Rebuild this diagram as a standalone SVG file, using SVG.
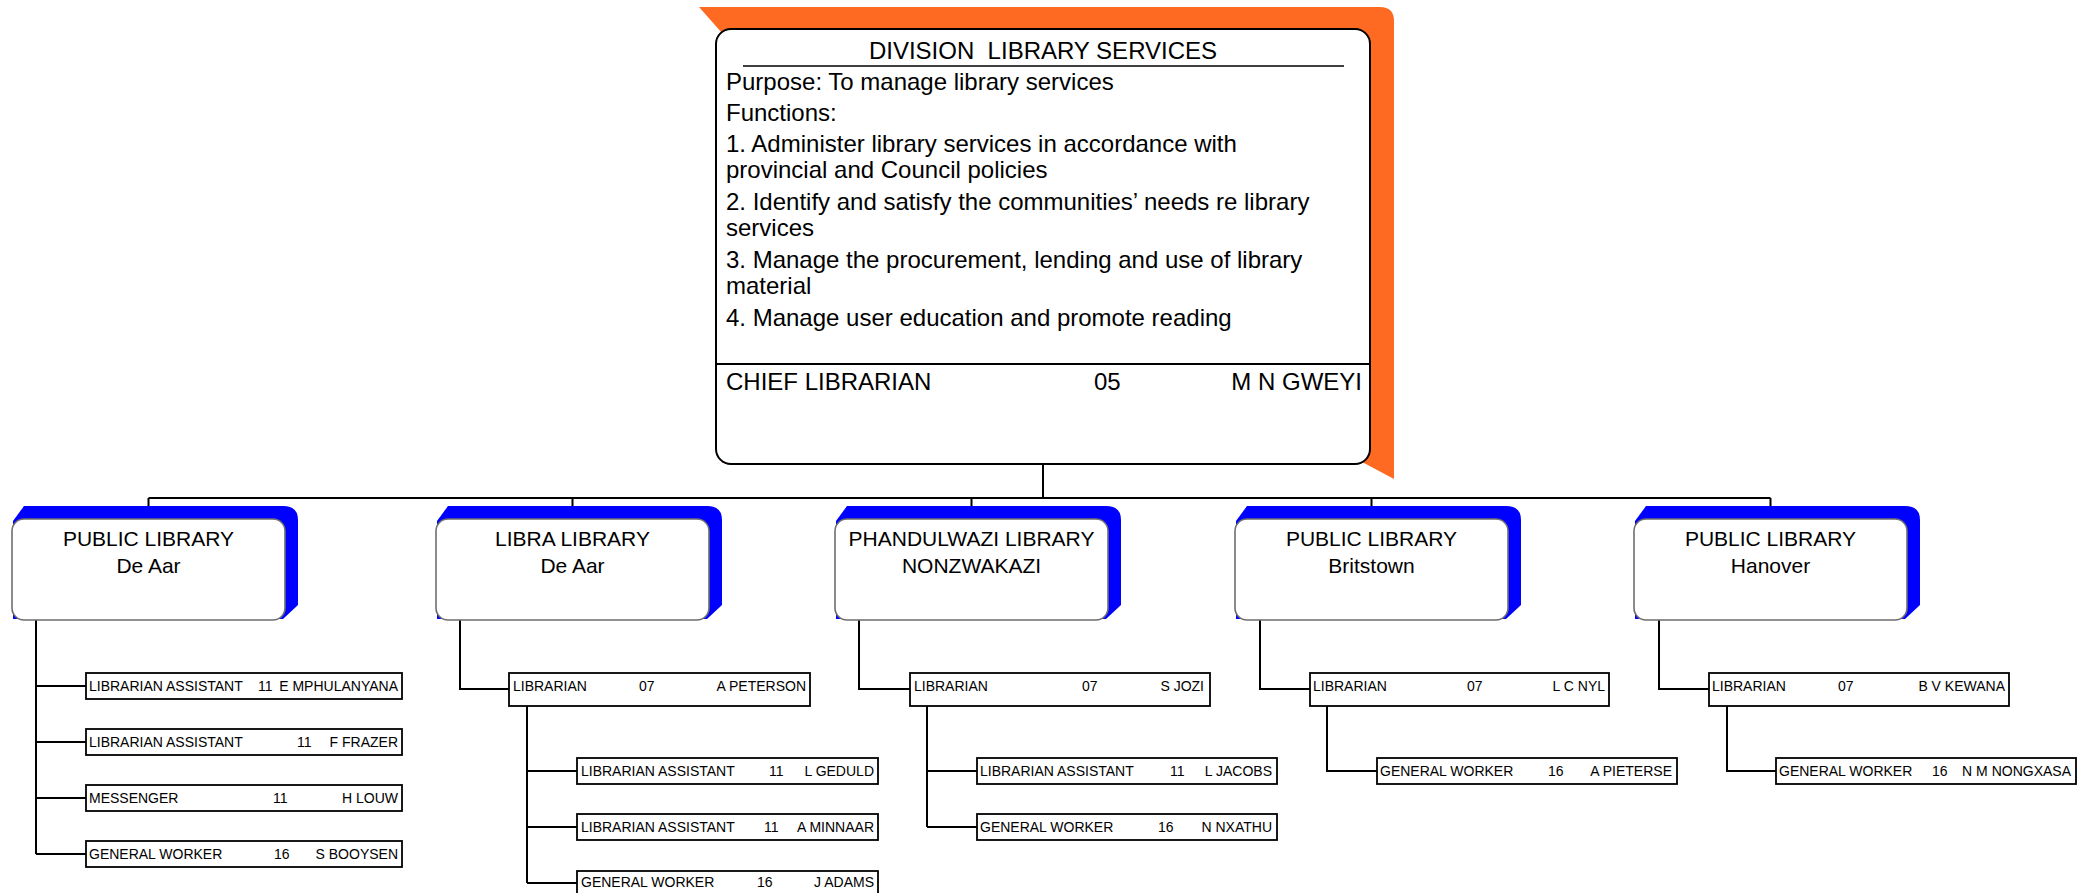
<svg xmlns="http://www.w3.org/2000/svg" width="2096" height="893" viewBox="0 0 2096 893">
<style>
text{font-family:"Liberation Sans",Arial,sans-serif;fill:#000}
.t24{font-size:24px}
.t21{font-size:21px;text-anchor:middle}
.t14{font-size:14px}
.r{text-anchor:end}
.lib{fill:#fff;stroke:#6e6e6e;stroke-width:1.6}
.sh{fill:#0000ff}
.pos{fill:#fff;stroke:#000;stroke-width:1.8}
.ln{fill:none;stroke:#000;stroke-width:2}
</style>
<rect width="2096" height="893" fill="#fff"/>

<g id="connectors">
<path class="ln" d="M1043,464 V498 M148.5,498 H1770.5 M148.5,498 V519 M572.5,498 V519 M971.5,498 V519 M1371.5,498 V519 M1770.5,498 V519"/>
<path class="ln" d="M36,620 V854 M36,686 H86 M36,742 H86 M36,798 H86 M36,854 H86"/>
<path class="ln" d="M460,620 V689 H509 M527,706 V883 M527,771 H577 M527,827 H577 M527,883 H577"/>
<path class="ln" d="M859,620 V689 H910 M927,706 V827 M927,771 H977 M927,827 H977"/>
<path class="ln" d="M1260,620 V689 H1310 M1327,706 V771 H1377"/>
<path class="ln" d="M1659,620 V689 H1709 M1727,706 V771 H1776"/>
</g>

<g id="division">
<path fill="#ff6a22" d="M699,7 L1380,7 Q1394,7 1394,21 L1394,479 L1364,463 L722,463 L722,33 Z"/>
<rect x="716" y="29" width="654" height="435" rx="15" fill="#fff" stroke="#000" stroke-width="2"/>
<text class="t24" x="1043" y="59" text-anchor="middle" xml:space="preserve" style="white-space:pre">DIVISION  LIBRARY SERVICES</text>
<line x1="743" y1="66" x2="1344" y2="66" stroke="#000" stroke-width="1.5"/>
<text class="t24" x="726" y="90">Purpose: To manage library services</text>
<text class="t24" x="726" y="121">Functions:</text>
<text class="t24" x="726" y="152">1. Administer library services in accordance with</text>
<text class="t24" x="726" y="178">provincial and Council policies</text>
<text class="t24" x="726" y="210">2. Identify and satisfy the communities’ needs re library</text>
<text class="t24" x="726" y="236">services</text>
<text class="t24" x="726" y="268">3. Manage the procurement, lending and use of library</text>
<text class="t24" x="726" y="294">material</text>
<text class="t24" x="726" y="326">4. Manage user education and promote reading</text>
<line x1="716" y1="364" x2="1370" y2="364" stroke="#000" stroke-width="2"/>
<text class="t24" x="726" y="390">CHIEF LIBRARIAN</text>
<text class="t24" x="1094" y="390">05</text>
<text class="t24 r" x="1362" y="390">M N GWEYI</text>
</g>

<g id="lib1">
<path class="sh" d="M13,521 L24,506 L283,506 Q298,506 298,520 L298,605 L283,619 L13,619 Z"/>
<rect class="lib" x="12" y="519" width="273" height="101" rx="12"/>
<text class="t21" x="148.5" y="546">PUBLIC LIBRARY</text>
<text class="t21" x="148.5" y="573">De Aar</text>
</g>
<g id="lib2">
<path class="sh" d="M437,521 L448,506 L707,506 Q722,506 722,520 L722,605 L707,619 L437,619 Z"/>
<rect class="lib" x="436" y="519" width="273" height="101" rx="12"/>
<text class="t21" x="572.5" y="546">LIBRA LIBRARY</text>
<text class="t21" x="572.5" y="573">De Aar</text>
</g>
<g id="lib3">
<path class="sh" d="M836,521 L847,506 L1106,506 Q1121,506 1121,520 L1121,605 L1106,619 L836,619 Z"/>
<rect class="lib" x="835" y="519" width="273" height="101" rx="12"/>
<text class="t21" x="971.5" y="546">PHANDULWAZI LIBRARY</text>
<text class="t21" x="971.5" y="573">NONZWAKAZI</text>
</g>
<g id="lib4">
<path class="sh" d="M1236,521 L1247,506 L1506,506 Q1521,506 1521,520 L1521,605 L1506,619 L1236,619 Z"/>
<rect class="lib" x="1235" y="519" width="273" height="101" rx="12"/>
<text class="t21" x="1371.5" y="546">PUBLIC LIBRARY</text>
<text class="t21" x="1371.5" y="573">Britstown</text>
</g>
<g id="lib5">
<path class="sh" d="M1635,521 L1646,506 L1905,506 Q1920,506 1920,520 L1920,605 L1905,619 L1635,619 Z"/>
<rect class="lib" x="1634" y="519" width="273" height="101" rx="12"/>
<text class="t21" x="1770.5" y="546">PUBLIC LIBRARY</text>
<text class="t21" x="1770.5" y="573">Hanover</text>
</g>

<g id="c1p1"><rect class="pos" x="86" y="673" width="316" height="26"/>
<text class="t14" x="89" y="691">LIBRARIAN ASSISTANT</text><text class="t14" x="258" y="691">11</text><text class="t14 r" x="398" y="691">E MPHULANYANA</text></g>
<g id="c1p2"><rect class="pos" x="86" y="729" width="316" height="26"/>
<text class="t14" x="89" y="747">LIBRARIAN ASSISTANT</text><text class="t14" x="297" y="747">11</text><text class="t14 r" x="398" y="747">F FRAZER</text></g>
<g id="c1p3"><rect class="pos" x="86" y="785" width="316" height="26"/>
<text class="t14" x="89" y="803">MESSENGER</text><text class="t14" x="273" y="803">11</text><text class="t14 r" x="398" y="803">H LOUW</text></g>
<g id="c1p4"><rect class="pos" x="86" y="841" width="316" height="26"/>
<text class="t14" x="89" y="859">GENERAL WORKER</text><text class="t14" x="274" y="859">16</text><text class="t14 r" x="398" y="859">S BOOYSEN</text></g>

<g id="c2lib"><rect class="pos" x="509" y="673" width="301" height="33"/>
<text class="t14" x="513" y="691">LIBRARIAN</text><text class="t14" x="639" y="691">07</text><text class="t14 r" x="806" y="691">A PETERSON</text></g>
<g id="c2p1"><rect class="pos" x="577" y="758" width="301" height="26"/>
<text class="t14" x="581" y="776">LIBRARIAN ASSISTANT</text><text class="t14" x="769" y="776">11</text><text class="t14 r" x="874" y="776">L GEDULD</text></g>
<g id="c2p2"><rect class="pos" x="577" y="814" width="301" height="26"/>
<text class="t14" x="581" y="832">LIBRARIAN ASSISTANT</text><text class="t14" x="764" y="832">11</text><text class="t14 r" x="874" y="832">A MINNAAR</text></g>
<g id="c2p3"><rect class="pos" x="577" y="871" width="301" height="26"/>
<text class="t14" x="581" y="887">GENERAL WORKER</text><text class="t14" x="757" y="887">16</text><text class="t14 r" x="874" y="887">J ADAMS</text></g>

<g id="c3lib"><rect class="pos" x="910" y="673" width="300" height="33"/>
<text class="t14" x="914" y="691">LIBRARIAN</text><text class="t14" x="1082" y="691">07</text><text class="t14 r" x="1204" y="691">S JOZI</text></g>
<g id="c3p1"><rect class="pos" x="977" y="758" width="300" height="26"/>
<text class="t14" x="980" y="776">LIBRARIAN ASSISTANT</text><text class="t14" x="1170" y="776">11</text><text class="t14 r" x="1272" y="776">L JACOBS</text></g>
<g id="c3p2"><rect class="pos" x="977" y="814" width="300" height="26"/>
<text class="t14" x="980" y="832">GENERAL WORKER</text><text class="t14" x="1158" y="832">16</text><text class="t14 r" x="1272" y="832">N NXATHU</text></g>

<g id="c4lib"><rect class="pos" x="1310" y="673" width="299" height="33"/>
<text class="t14" x="1313" y="691">LIBRARIAN</text><text class="t14" x="1467" y="691">07</text><text class="t14 r" x="1605" y="691">L C NYL</text></g>
<g id="c4p1"><rect class="pos" x="1377" y="758" width="300" height="26"/>
<text class="t14" x="1380" y="776">GENERAL WORKER</text><text class="t14" x="1548" y="776">16</text><text class="t14 r" x="1672" y="776">A PIETERSE</text></g>

<g id="c5lib"><rect class="pos" x="1709" y="673" width="300" height="33"/>
<text class="t14" x="1712" y="691">LIBRARIAN</text><text class="t14" x="1838" y="691">07</text><text class="t14 r" x="2005" y="691">B V KEWANA</text></g>
<g id="c5p1"><rect class="pos" x="1776" y="758" width="300" height="26"/>
<text class="t14" x="1779" y="776">GENERAL WORKER</text><text class="t14" x="1932" y="776">16</text><text class="t14 r" x="2071" y="776">N M NONGXASA</text></g>
</svg>
